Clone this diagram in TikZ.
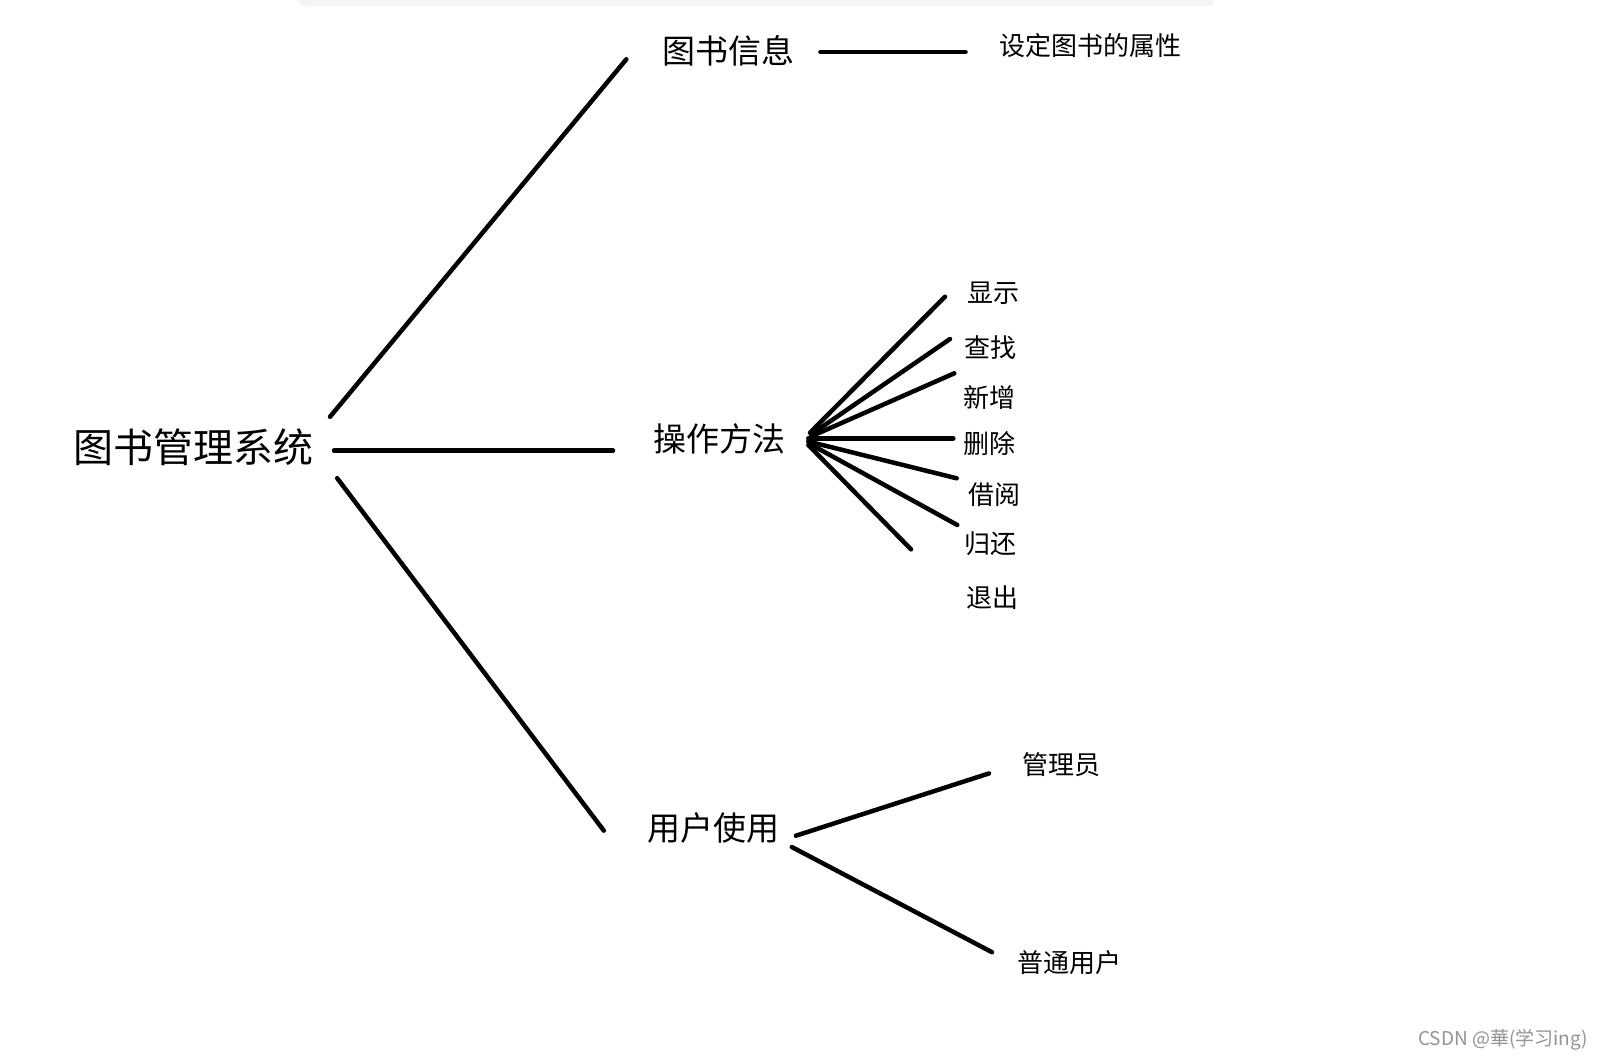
\documentclass[tikz,border=0pt]{standalone}
\usepackage{fontspec}
\setmainfont{Noto Sans CJK SC}
\begin{document}
\begin{tikzpicture}[x=1pt,y=-1pt,
  conn/.style={line width=4.5pt,line cap=round},
  big/.style={inner sep=0pt,font=\fontsize{40}{44}\selectfont},
  mid/.style={inner sep=0pt,font=\fontsize{33}{36}\selectfont},
  small/.style={inner sep=0pt,font=\fontsize{26}{30}\selectfont}]
\useasboundingbox[fill=white] (0,0) rectangle (1602,1060);
\fill[black!4,rounded corners=6pt] (299,-10) rectangle (1214,6);
% texts
\node[big] (root) at (193.6,447.5) {图书管理系统};
\node[mid] (info) at (728.5,51) {图书信息};
\node[small] (attr) at (1090.7,46) {设定图书的属性};
\node[mid] (ops) at (719.3,439.3) {操作方法};
\node[small] (show) at (993,293.2) {显示};
\node[small] (find) at (990,347.4) {查找};
\node[small] (add) at (989,397.4) {新增};
\node[small] (del) at (989,443.4) {删除};
\node[small] (borrow) at (994,494.5) {借阅};
\node[small] (ret) at (990,543.5) {归还};
\node[small] (quit) at (992,597.7) {退出};
\node[mid] (user) at (713.7,827.6) {用户使用};
\node[small] (admin) at (1061,764.2) {管理员};
\node[small] (normal) at (1069.7,962.4) {普通用户};
\node[inner sep=0pt,text=black!42,font=\fontsize{19}{21}\selectfont] (mark) at (1503,1040) {CSDN @華(学习ing)};
% connector end points
\coordinate (r1) at (330,416.8);
\coordinate (i1) at (626.3,59.3);
\coordinate (r2) at (334,450.6);
\coordinate (o2) at (613,450.6);
\coordinate (r3) at (337.2,478.2);
\coordinate (u3) at (603.8,830.6);
\coordinate (i4) at (820.4,52.1);
\coordinate (a4) at (965.5,52.1);
\coordinate (fan) at (809,440);
\coordinate (e1) at (945,296.7);
\coordinate (e2) at (950,339);
\coordinate (e3) at (954.3,373.3);
\coordinate (e4) at (953.3,438.3);
\coordinate (e5) at (956.7,478.3);
\coordinate (e6) at (957.3,525);
\coordinate (e7) at (911,549.3);
\coordinate (u6) at (795.9,835.7);
\coordinate (m6) at (989,773.4);
\coordinate (u7) at (791.8,847);
\coordinate (n7) at (992,952.2);
% connectors
\draw[conn] (r1) -- (i1);
\draw[conn] (r2) -- (o2);
\draw[conn] (r3) -- (u3);
\draw[conn] (i4) -- (a4);
\draw[conn] (810,432.7) -- (e1);
\draw[conn] (811,434.5) -- (e2);
\draw[conn] (812,436) -- (e3);
\draw[conn] (808.3,438.3) -- (e4);
\draw[conn] (808.3,441.5) -- (e5);
\draw[conn] (809,443.5) -- (e6);
\draw[conn] (808.3,445) -- (e7);
\draw[conn] (u6) -- (m6);
\draw[conn] (u7) -- (n7);
\end{tikzpicture}
\end{document}
